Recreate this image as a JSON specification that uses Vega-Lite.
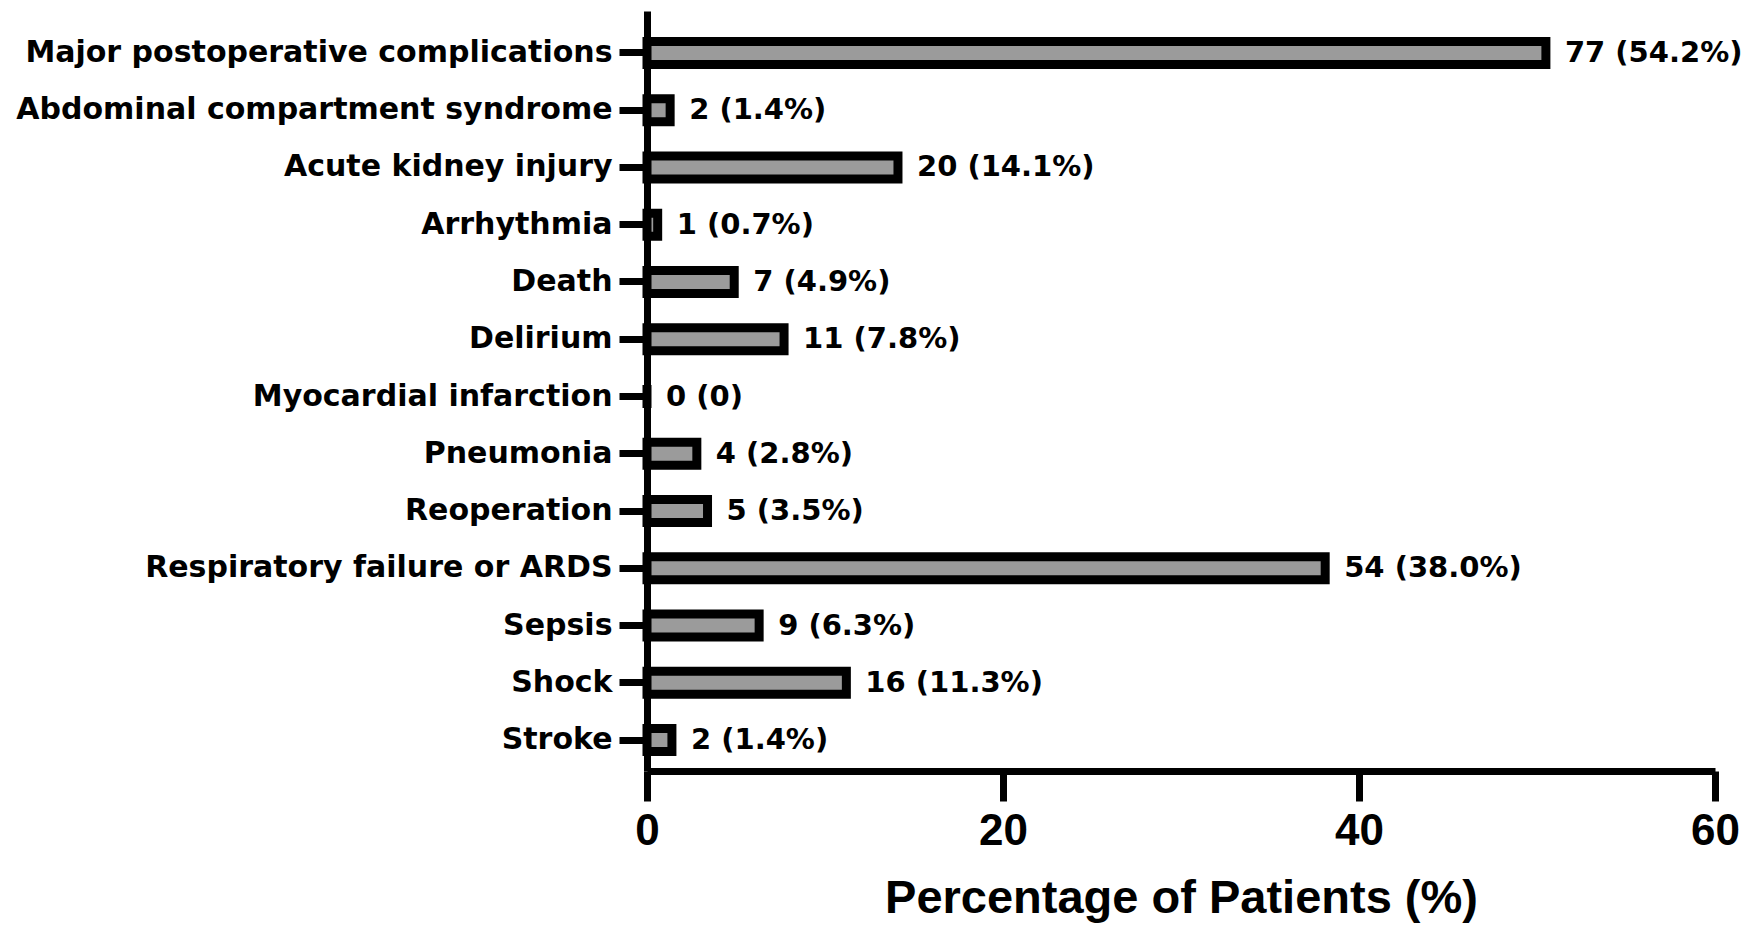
{
  "$schema": "https://vega.github.io/schema/vega-lite/v6.json",
  "autosize": "none",
  "padding": {"left": 647, "top": 11, "right": 34, "bottom": 166},
  "width": 1068,
  "height": 760,
  "background": "white",
  "config": {
    "view": {"stroke": null},
    "font": "Liberation Sans"
  },
  "data": {
    "values": [
      {"category": "Major postoperative complications", "value": 50.5, "label": "77 (54.2%)"},
      {"category": "Abdominal compartment syndrome", "value": 1.3, "label": "2 (1.4%)"},
      {"category": "Acute kidney injury", "value": 14.1, "label": "20 (14.1%)"},
      {"category": "Arrhythmia", "value": 0.6, "label": "1 (0.7%)"},
      {"category": "Death", "value": 4.9, "label": "7 (4.9%)"},
      {"category": "Delirium", "value": 7.7, "label": "11 (7.8%)"},
      {"category": "Myocardial infarction", "value": 0, "label": "0 (0)"},
      {"category": "Pneumonia", "value": 2.8, "label": "4 (2.8%)"},
      {"category": "Reoperation", "value": 3.4, "label": "5 (3.5%)"},
      {"category": "Respiratory failure or ARDS", "value": 38.1, "label": "54 (38.0%)"},
      {"category": "Sepsis", "value": 6.3, "label": "9 (6.3%)"},
      {"category": "Shock", "value": 11.2, "label": "16 (11.3%)"},
      {"category": "Stroke", "value": 1.4, "label": "2 (1.4%)"}
    ]
  },
  "encoding": {
    "y": {
      "field": "category",
      "type": "nominal",
      "sort": null,
      "scale": {"paddingInner": 0.6, "paddingOuter": 0.437, "align": 0.61},
      "axis": {
        "title": null,
        "labelFont": "DejaVu Sans",
        "labelFontWeight": "bold",
        "labelFontSize": 30,
        "labelColor": "black",
        "labelPadding": 7,
        "labelLimit": 800,
        "tickSize": 28,
        "tickWidth": 7,
        "tickColor": "black",
        "domainColor": "black",
        "domainWidth": 7
      }
    },
    "x": {
      "field": "value",
      "type": "quantitative",
      "scale": {"domain": [0, 60], "nice": false},
      "axis": {
        "title": "Percentage of Patients (%)",
        "values": [0, 20, 40, 60],
        "grid": false,
        "labelFont": "Liberation Sans",
        "labelFontWeight": "bold",
        "labelFontSize": 44,
        "labelColor": "black",
        "labelPadding": 8,
        "labelFlush": false,
        "tickSize": 30,
        "tickWidth": 7,
        "tickColor": "black",
        "domainColor": "black",
        "domainWidth": 7,
        "titleFont": "Liberation Sans",
        "titleFontWeight": "bold",
        "titleFontSize": 47,
        "titleColor": "black",
        "titlePadding": 22
      }
    }
  },
  "layer": [
    {
      "mark": {"type": "bar", "fill": "#9b9b9b", "stroke": "black", "strokeWidth": 9}
    },
    {
      "mark": {"type": "text", "align": "left", "baseline": "middle", "dx": 19, "font": "DejaVu Sans", "fontWeight": "bold", "fontSize": 29, "color": "black"},
      "encoding": {"text": {"field": "label"}}
    }
  ]
}
